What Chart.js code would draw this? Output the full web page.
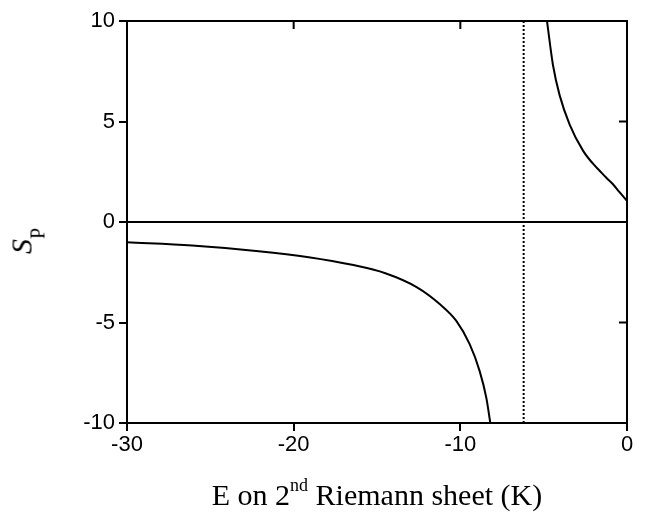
<!DOCTYPE html>
<html>
<head>
<meta charset="utf-8">
<script src="https://cdn.jsdelivr.net/npm/chart.js@4"></script>
<style>
  html, body { margin: 0; padding: 0; background: #fff; }
  #wrap { position: relative; width: 647px; height: 513px; }
  #chart { position: absolute; left: 0; top: 0; }
  .title { position: absolute; font-family: "Liberation Serif", "Times New Roman", serif; font-size: 30px; line-height: 30px; color: #000; white-space: nowrap; }
  #xTitle { left: 377px; top: 480px; transform: translateX(-50%); }
  #yTitle { left: 23px; top: 241px; transform: translate(-50%, -50%) rotate(-90deg); }
  .title sup { font-size: 18px; vertical-align: baseline; position: relative; top: -14px; }
  .title sub { font-size: 20px; vertical-align: baseline; position: relative; top: 13px; }
</style>
</head>
<body>
<div id="wrap">
  <canvas id="chart" width="647" height="513"></canvas>
  <div class="title" id="xTitle">E on 2<sup>nd</sup> Riemann sheet (K)</div>
  <div class="title" id="yTitle"><i>S</i><sub>P</sub></div>
</div>
<script>
// lower branch (left of the pole)
const lowerE  = [-30, -26.1, -22.1, -19.1, -16.5, -14.5, -12.6, -11.24, -10.24, -9.44, -8.84, -8.44, -8.2];
const lowerSP = [-1.01, -1.17, -1.45, -1.75, -2.13, -2.55, -3.25, -4.08, -4.92, -6.08, -7.42, -8.75, -10];

// upper branch (right of the pole)
const upperE  = [-4.8, -4.44, -4.04, -3.44, -2.64, -2.04, -1.64, -1.24, -0.84, -0.46, 0];
const upperSP = [10, 7.8, 6.3, 4.85, 3.55, 2.9, 2.55, 2.2, 1.88, 1.5, 1.05];

const poleE = -6.2;
const xTicks = [-30, -20, -10, 0];
const yTicks = [-10, -5, 0, 5, 10];

const toPoints = (xs, ys) => xs.map((x, i) => ({ x: x, y: ys[i] }));

const lineStyle = {
    showLine: true,
    borderColor: '#000',
    borderWidth: 2,
    pointRadius: 0,
    fill: false
};

// frame plus inward ticks on top and right
const framePlugin = {
    id: 'frame',
    afterDatasetsDraw(chart) {
        const { ctx, chartArea: a, scales } = chart;
        ctx.save();
        ctx.strokeStyle = '#000';
        ctx.lineWidth = 2;
        ctx.beginPath();
        ctx.moveTo(a.left, a.top);
        ctx.lineTo(a.right, a.top);
        ctx.lineTo(a.right, a.bottom);
        ctx.stroke();
        ctx.beginPath();
        xTicks.forEach(v => {
            const px = scales.x.getPixelForValue(v);
            ctx.moveTo(px, a.top);
            ctx.lineTo(px, a.top + 8);
        });
        yTicks.forEach(v => {
            const py = scales.y.getPixelForValue(v);
            ctx.moveTo(a.right, py);
            ctx.lineTo(a.right - 8, py);
        });
        ctx.stroke();
        ctx.restore();
    }
};

const tickFont = { family: '"Liberation Sans", Arial, sans-serif', size: 22 };

new Chart(document.getElementById('chart').getContext('2d'), {
    type: 'scatter',
    data: {
        datasets: [
            { ...lineStyle, data: toPoints(lowerE, lowerSP), cubicInterpolationMode: 'monotone' },
            { ...lineStyle, data: toPoints(upperE, upperSP), cubicInterpolationMode: 'monotone' },
            { ...lineStyle, data: [{ x: -30, y: 0 }, { x: 0, y: 0 }] },
            { ...lineStyle, data: [{ x: poleE, y: -10 }, { x: poleE, y: 10 }], borderDash: [2, 2] }
        ]
    },
    options: {
        responsive: false,
        animation: false,
        layout: { padding: { left: 0, right: 20, top: 21, bottom: 0 } },
        plugins: { legend: { display: false }, tooltip: { enabled: false } },
        scales: {
            x: {
                type: 'linear',
                min: -30, max: 0,
                afterFit: s => { s.height = 90; },
                afterBuildTicks: s => { s.ticks = xTicks.map(v => ({ value: v })); },
                ticks: { color: '#000', font: tickFont, padding: 1, maxRotation: 0 },
                grid: { drawOnChartArea: false, color: '#000', lineWidth: 2, tickLength: 8 },
                border: { color: '#000', width: 2 }
            },
            y: {
                type: 'linear',
                min: -10, max: 10,
                afterFit: s => { s.width = 127; },
                afterBuildTicks: s => { s.ticks = yTicks.map(v => ({ value: v })); },
                ticks: { color: '#000', font: tickFont, padding: 4 },
                grid: { drawOnChartArea: false, color: '#000', lineWidth: 2, tickLength: 8 },
                border: { color: '#000', width: 2 }
            }
        }
    },
    plugins: [framePlugin]
});
</script>
</body>
</html>
